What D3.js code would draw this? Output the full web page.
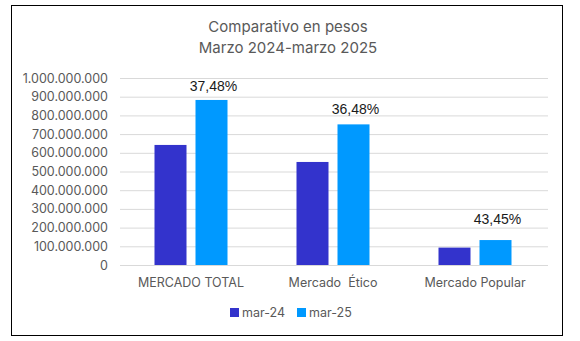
<!DOCTYPE html>
<html><head><meta charset="utf-8">
<script src="https://cdn.jsdelivr.net/npm/d3@7"></script>
<style>body{margin:0;background:#fff;}svg{display:block;font-family:Inter,"Open Sans",sans-serif;}</style>
</head><body><svg id="c" width="580" height="341"></svg>
<script>
const categories = ["MERCADO TOTAL", "Mercado  Ético", "Mercado Popular"];
const seriesNames = ["mar-24", "mar-25"];
const mar24 = [642000000, 551000000, 93000000];
const mar25 = [882600000, 752000000, 133400000];
const growthLabels = ["37,48%", "36,48%", "43,45%"];
const yTicks = [0,100000000,200000000,300000000,400000000,500000000,600000000,700000000,800000000,900000000,1000000000];
const colors = ["#3333CC", "#0099FF"];

const svg = d3.select("#c");
svg.append("rect").attr("x",11.5).attr("y",5.5).attr("width",551).attr("height",330).attr("fill","#fff").attr("stroke","#000").attr("stroke-width",1);

svg.append("text").attr("x",288).attr("y",32).attr("text-anchor","middle").attr("fill","#595959").attr("font-size",15).text("Comparativo en pesos");
svg.append("text").attr("x",288).attr("y",53).attr("text-anchor","middle").attr("fill","#595959").attr("font-size",15).text("Marzo 2024-marzo 2025");

const x = d3.scaleBand().domain(categories).range([120,546]);
const y = d3.scaleLinear().domain([0,1000000000]).range([265,78]);
const fmt = v => d3.format(",")(v).replace(/,/g,".");

const g = svg.append("g");
g.selectAll("line.grid").data(yTicks).join("line").attr("class","grid")
 .attr("x1",120).attr("x2",548).attr("y1",d=>y(d)+0.5).attr("y2",d=>y(d)+0.5)
 .attr("stroke","#d9d9d9").attr("stroke-width",1);
g.selectAll("text.yt").data(yTicks).join("text").attr("class","yt")
 .attr("x",108).attr("y",d=>y(d)+4.5).attr("text-anchor","end").attr("fill","#595959").attr("font-size",12.5).text(fmt);

const barW = 32, gap = 9;
const series = [mar24, mar25];
series.forEach((vals,si)=>{
  g.selectAll("rect.s"+si).data(vals).join("rect").attr("class","s"+si)
   .attr("x",(d,i)=>x(categories[i])+x.bandwidth()/2 - barW - gap/2 + si*(barW+gap))
   .attr("y",d=>y(d)).attr("width",barW).attr("height",d=>y(0)-y(d)).attr("fill",colors[si]);
});
const labelLift = [9, 10, 16];
g.selectAll("text.dl").data(mar25).join("text").attr("class","dl")
 .attr("x",(d,i)=>x(categories[i])+x.bandwidth()/2 + gap/2 + barW/2 + 2)
 .attr("y",(d,i)=>y(d)-labelLift[i]).attr("text-anchor","middle").attr("fill","#1a1a1a")
 .attr("font-family","'Liberation Sans',Arial,sans-serif").attr("font-size",14)
 .text((d,i)=>growthLabels[i]);

g.selectAll("text.cat").data(categories).join("text").attr("class","cat")
 .attr("x",d=>x(d)+x.bandwidth()/2).attr("y",287).attr("text-anchor","middle").attr("fill","#595959").attr("font-size",12.5)
 .attr("xml:space","preserve").style("white-space","pre").text(d=>d);

const lg = svg.append("g");
const lx = [230, 297];
seriesNames.forEach((n,i)=>{
  lg.append("rect").attr("x",lx[i]).attr("y",308).attr("width",9).attr("height",9).attr("fill",colors[i]);
  lg.append("text").attr("x",lx[i]+12).attr("y",317).attr("fill","#595959").attr("font-size",12.5).text(n);
});
</script></body></html>
